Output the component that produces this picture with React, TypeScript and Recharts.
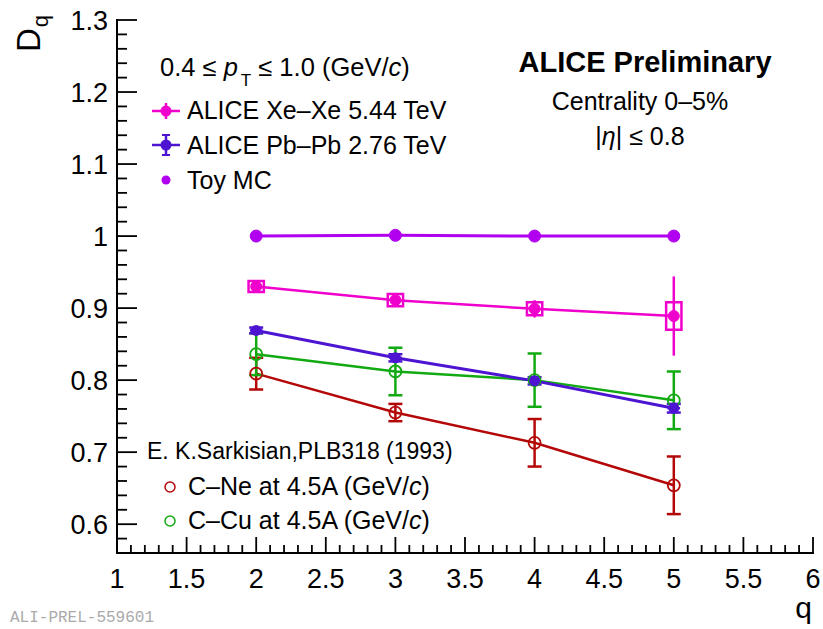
import React from 'react';
import { ComposedChart, Line, Scatter, XAxis, YAxis, ErrorBar, ReferenceArea } from 'recharts';

const W = 823;
const H = 629;
const FONT = '"Liberation Sans", Arial, Helvetica, sans-serif';

const VIOLET = '#b100f0';
const MAGENTA = '#f000cc';
const BLUE = '#4d14d2';
const GREEN = '#12aa12';
const RED = '#b40808';

// generalized dimensions D_q at each order q
const qValues = [2, 3, 4, 5];
const toyMc = [1.0, 1.001, 1.0, 1.0];
const xeXe = [0.93, 0.911, 0.899, 0.889];
const xeXeStat = [0.003, 0.004, 0.012, 0.055];
const xeXeSys = [0.0075, 0.0085, 0.009, 0.019];
const pbPb = [0.869, 0.831, 0.799, 0.761];
const pbPbStat = [0.004, 0.005, 0.005, 0.006];
const pbPbQErr = [0.045, 0.045, 0.045, 0.045];
const cNe = [0.809, 0.755, 0.713, 0.654];
const cNeErr = [0.022, 0.012, 0.033, 0.04];
const cCu = [0.836, 0.812, 0.8, 0.772];
const cCuErr = [0.029, 0.033, 0.037, 0.04];

// half width (in q) of the systematic boxes
const sysHalfWidth = 0.055;

const xMajor = [1, 1.5, 2, 2.5, 3, 3.5, 4, 4.5, 5, 5.5, 6];
const yMajor = [0.6, 0.7, 0.8, 0.9, 1, 1.1, 1.2, 1.3];

const xTicks: number[] = [];
for (let k = 10; k <= 60; k++) xTicks.push(k / 10);
const yTicks: number[] = [];
for (let k = 28; k <= 65; k++) yTicks.push(k / 50);

const table = qValues.map((q, i) => ({
  q,
  toy: toyMc[i],
  xe: xeXe[i],
  xeErr: xeXeStat[i],
  pb: pbPb[i],
  pbErr: pbPbStat[i],
  pbQErr: pbPbQErr[i],
  ne: cNe[i],
  neErr: cNeErr[i],
  cu: cCu[i],
  cuErr: cCuErr[i],
}));

const isMajor = (v: number, majors: number[]) => majors.some((m) => Math.abs(m - v) < 1e-6);

const BottomTick = (p: any) => {
  const v = p.payload.value;
  const major = isMajor(v, xMajor);
  return (
    <g>
      <line x1={p.x} x2={p.x} y1={p.y} y2={p.y - (major ? 16 : 8)} stroke="#000" strokeWidth={1.8} />
      {major && (
        <text x={p.x} y={p.y + 35} textAnchor="middle" fontFamily={FONT} fontSize={27} fill="#000">
          {v}
        </text>
      )}
    </g>
  );
};

const TopTick = (p: any) => {
  const major = isMajor(p.payload.value, xMajor);
  return <line x1={p.x} x2={p.x} y1={p.y} y2={p.y + (major ? 16 : 8)} stroke="#000" strokeWidth={1.8} />;
};

const LeftTick = (p: any) => {
  const v = p.payload.value;
  const major = isMajor(v, yMajor);
  return (
    <g>
      <line x1={p.x} x2={p.x + (major ? 20 : 10)} y1={p.y} y2={p.y} stroke="#000" strokeWidth={1.8} />
      {major && (
        <text x={p.x - 9} y={p.y + 10} textAnchor="end" fontFamily={FONT} fontSize={27} fill="#000">
          {v}
        </text>
      )}
    </g>
  );
};

const RightTick = (p: any) => {
  const major = isMajor(p.payload.value, yMajor);
  return <line x1={p.x} x2={p.x - (major ? 20 : 10)} y1={p.y} y2={p.y} stroke="#000" strokeWidth={1.8} />;
};

const frameLine = { stroke: '#000', strokeWidth: 2, strokeLinecap: 'square' as const };

const PbMarker = (p: any) => <circle cx={p.cx} cy={p.cy} r={5.5} fill={BLUE} />;

export default function App() {
  return (
    <div style={{ position: 'relative', width: W, height: H, background: '#fff' }}>
      <style>{'html,body{margin:0;padding:0;overflow:hidden;background:#fff}'}</style>
      <ComposedChart width={W} height={H} data={table} margin={{ top: 20, right: 10, left: 0, bottom: 0 }}>
        <XAxis
          dataKey="q"
          type="number"
          domain={[1, 6]}
          ticks={xTicks}
          interval={0}
          height={76}
          tickSize={0}
          tickMargin={0}
          axisLine={frameLine}
          tick={BottomTick}
          allowDataOverflow
        />
        <XAxis
          xAxisId="top"
          orientation="top"
          type="number"
          domain={[1, 6]}
          ticks={xTicks}
          interval={0}
          height={0}
          tickSize={0}
          tickMargin={0}
          axisLine={frameLine}
          tick={TopTick}
          allowDataOverflow
        />
        <YAxis
          type="number"
          domain={[0.56, 1.3]}
          ticks={yTicks}
          interval={0}
          width={117}
          tickSize={0}
          tickMargin={0}
          axisLine={frameLine}
          tick={LeftTick}
          allowDataOverflow
        />
        <YAxis
          yAxisId="right"
          orientation="right"
          type="number"
          domain={[0.56, 1.3]}
          ticks={yTicks}
          interval={0}
          width={0}
          tickSize={0}
          tickMargin={0}
          axisLine={frameLine}
          tick={RightTick}
          allowDataOverflow
        />

        {qValues.map((q, i) => (
          <ReferenceArea
            key={q}
            x1={q - sysHalfWidth}
            x2={q + sysHalfWidth}
            y1={xeXe[i] - xeXeSys[i]}
            y2={xeXe[i] + xeXeSys[i]}
            fill="none"
            stroke={MAGENTA}
            strokeWidth={2.5}
            ifOverflow="visible"
          />
        ))}

        <Line type="linear" dataKey="ne" stroke={RED} strokeWidth={2.5} isAnimationActive={false}
          dot={{ r: 6, fill: 'none', stroke: RED, strokeWidth: 1.8 }}>
          <ErrorBar dataKey="neErr" width={7} stroke={RED} strokeWidth={2.5} />
        </Line>
        <Line type="linear" dataKey="cu" stroke={GREEN} strokeWidth={2.5} isAnimationActive={false}
          dot={{ r: 6, fill: 'none', stroke: GREEN, strokeWidth: 1.8 }}>
          <ErrorBar dataKey="cuErr" width={7} stroke={GREEN} strokeWidth={2.5} />
        </Line>
        <Line type="linear" dataKey="pb" stroke={BLUE} strokeWidth={3} isAnimationActive={false} dot={false}>
          <ErrorBar dataKey="pbErr" width={7} stroke={BLUE} strokeWidth={2.5} />
        </Line>
        <Scatter dataKey="pb" fill={BLUE} shape={PbMarker} isAnimationActive={false}>
          <ErrorBar dataKey="pbQErr" direction="x" width={0} stroke={BLUE} strokeWidth={2.5} />
        </Scatter>
        <Line type="linear" dataKey="xe" stroke={MAGENTA} strokeWidth={2.5} isAnimationActive={false}
          dot={{ r: 5.5, fill: MAGENTA, stroke: MAGENTA, strokeWidth: 1 }}>
          <ErrorBar dataKey="xeErr" width={0} stroke={MAGENTA} strokeWidth={2.5} />
        </Line>
        <Line type="linear" dataKey="toy" stroke={VIOLET} strokeWidth={3} isAnimationActive={false}
          dot={{ r: 6, fill: VIOLET, stroke: VIOLET, strokeWidth: 1 }} />
      </ComposedChart>

      <svg width={W} height={H} style={{ position: 'absolute', left: 0, top: 0, pointerEvents: 'none' }}
        fontFamily={FONT} fill="#000">
        {/* axis titles */}
        <text transform="translate(40,52) rotate(-90)" fontSize={33}>
          D<tspan fontSize={22} dx={1} dy={8}>q</tspan>
        </text>
        <text x={812} y={618} textAnchor="end" fontSize={30}>q</text>

        {/* upper left legend */}
        <text x={160} y={76} fontSize={25.5}>
          0.4 ≤ <tspan fontStyle="italic">p</tspan>
          <tspan fontSize={17} dx={3} dy={10}>T</tspan>
          <tspan dy={-10}> ≤ 1.0 (GeV/</tspan>
          <tspan fontStyle="italic">c</tspan>)
        </text>

        <line x1={152} x2={180} y1={111} y2={111} stroke={MAGENTA} strokeWidth={2.5} />
        <line x1={166} x2={166} y1={103} y2={119} stroke={MAGENTA} strokeWidth={2.5} />
        <circle cx={166} cy={111} r={5.5} fill={MAGENTA} />
        <text x={187} y={119} fontSize={25}>ALICE Xe–Xe 5.44 TeV</text>

        <line x1={152} x2={180} y1={145} y2={145} stroke={BLUE} strokeWidth={2.5} />
        <line x1={166} x2={166} y1={135} y2={155} stroke={BLUE} strokeWidth={2.5} />
        <line x1={162} x2={170} y1={135} y2={135} stroke={BLUE} strokeWidth={2} />
        <line x1={162} x2={170} y1={155} y2={155} stroke={BLUE} strokeWidth={2} />
        <circle cx={166} cy={145} r={5.5} fill={BLUE} />
        <text x={187} y={154} fontSize={25}>ALICE Pb–Pb 2.76 TeV</text>

        <circle cx={166} cy={180} r={4.5} fill={VIOLET} />
        <text x={187} y={189} fontSize={25}>Toy MC</text>

        {/* upper right labels */}
        <text x={645} y={72} textAnchor="middle" fontSize={29} fontWeight="bold">ALICE Preliminary</text>
        <text x={640} y={110} textAnchor="middle" fontSize={25}>Centrality 0–5%</text>
        <text x={640} y={145} textAnchor="middle" fontSize={25}>
          |<tspan fontStyle="italic">η</tspan>| ≤ 0.8
        </text>

        {/* lower left legend */}
        <text x={147} y={459} fontSize={23}>E. K.Sarkisian,PLB318 (1993)</text>
        <circle cx={170} cy={487} r={5} fill="none" stroke={RED} strokeWidth={1.5} />
        <text x={188} y={495} fontSize={25}>
          C–Ne at 4.5A (GeV/<tspan fontStyle="italic">c</tspan>)
        </text>
        <circle cx={170} cy={521} r={5} fill="none" stroke={GREEN} strokeWidth={1.5} />
        <text x={188} y={529} fontSize={25}>
          C–Cu at 4.5A (GeV/<tspan fontStyle="italic">c</tspan>)
        </text>

        <text x={10} y={622} fontFamily='"Liberation Mono", "DejaVu Sans Mono", monospace' fontSize={16} fill="#aaa">
          ALI-PREL-559601
        </text>
      </svg>
    </div>
  );
}
